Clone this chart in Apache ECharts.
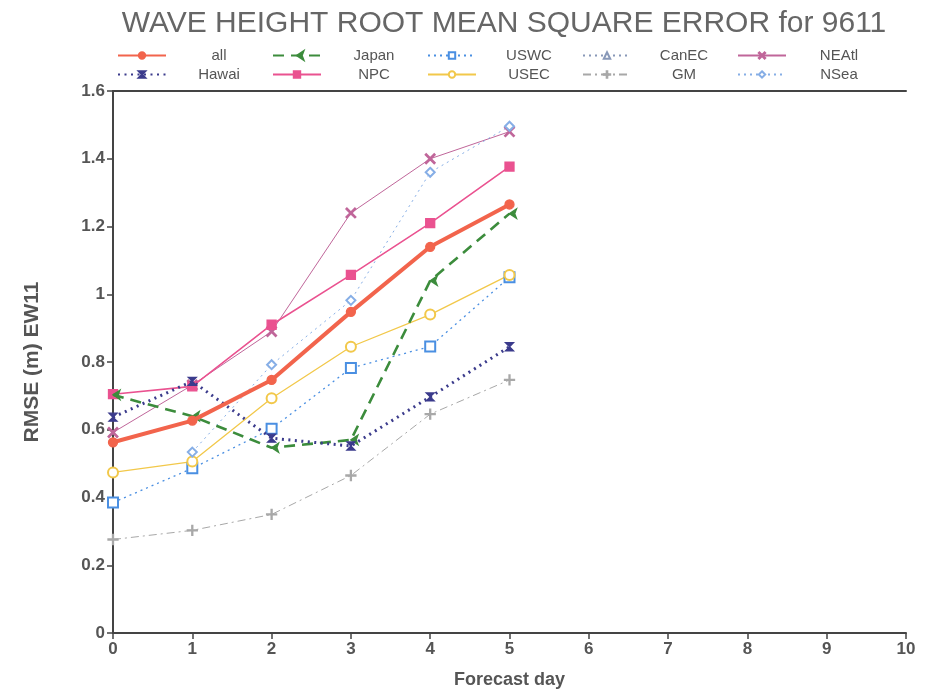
<!DOCTYPE html>
<html><head><meta charset="utf-8">
<script src="https://cdn.jsdelivr.net/npm/echarts@6/dist/echarts.min.js"></script>
<style>html,body{margin:0;padding:0;background:#fff}#c{width:928px;height:698px}</style>
</head><body><div id="c"></div>
<script>
const days = [0,1,2,3,4,5];
const allV   = [0.563,0.627,0.747,0.948,1.140,1.265];
const japanV = [0.703,0.640,0.547,0.570,1.040,1.238];
const uswcV  = [0.385,0.486,0.603,0.782,0.846,1.050];
const canecV = [];
const neatlV = [0.592,0.732,0.890,1.240,1.400,1.480];
const hawaiV = [0.637,0.743,0.575,0.552,0.697,0.845];
const npcV   = [0.705,0.728,0.910,1.057,1.210,1.377];
const usecV  = [0.474,0.506,0.693,0.845,0.940,1.057];
const gmV    = [0.276,0.303,0.350,0.465,0.646,0.747];
const nseaV  = [null,0.534,0.792,0.982,1.360,1.496];
const xTicks = [0,1,2,3,4,5,6,7,8,9,10];
const yTicks = [0,0.2,0.4,0.6,0.8,1,1.2,1.4,1.6];
const legendRow1 = ['all','Japan','USWC','CanEC','NEAtl'];
const legendRow2 = ['Hawai','NPC','USEC','GM','NSea'];

const pts = v => v.map((y,i)=>[days[i], y]);
const X_PATH = 'path://M0,1L1,0L5,4L9,0L10,1L6,5L10,9L9,10L5,6L1,10L0,9L4,5Z';
const PLUS_PATH = 'path://M4.5,0H5.5V4.5H10V5.5H5.5V10H4.5V5.5H0V4.5H4.5Z';
const HOUR_PATH = 'path://M0,0L10,0L5,5L10,10L0,10L5,5Z';

function S(name, data, color, width, type, symbol, size, extra){
  return Object.assign({
    name, type:'line', data: pts(data), symbol, symbolSize:size, showSymbol:true,
    connectNulls:false,
    lineStyle:{color, width, type},
    itemStyle:{color, borderColor:color, borderWidth:1.3},
    z: 2
  }, extra||{});
}
const series = [
  S('all', allV, '#f2644c', 4, 'solid', 'circle', 9, {z:5}),
  S('Japan', japanV, '#3c8c3c', 2.6, [11,7], 'arrow', 7, {symbolRotate:90, z:4}),
  S('USWC', uswcV, '#4a8fe2', 1.3, [2,4], 'emptyRect', 10),
  S('CanEC', canecV, '#8898b8', 1, [2,4], 'emptyTriangle', 9),
  S('NEAtl', neatlV, '#c0669a', 1, 'solid', X_PATH, 10),
  S('Hawai', hawaiV, '#3b3b8c', 3, [2,4.5], HOUR_PATH, 8, {z:4}),
  S('NPC', npcV, '#ea5290', 1.6, 'solid', 'rect', 9, {z:3}),
  S('USEC', usecV, '#f2c84a', 1.3, 'solid', 'emptyCircle', 10),
  S('GM', gmV, '#a8a8a8', 1, [8,4,2,4], PLUS_PATH, 10),
  S('NSea', nseaV, '#86aee6', 1, [2,4], 'emptyDiamond', 9)
];

const FONT = 'Liberation Sans, Arial, sans-serif';
const legendText = {color:'#555', fontSize:15, fontFamily:FONT,
  rich:{c:{width:96, align:'center', color:'#555', fontSize:15, fontFamily:FONT}}};
const legends = [];
[[legendRow1,43],[legendRow2,62]].forEach(([row,top])=>{
  row.forEach((n,k)=>{
    legends.push({top, left:112+155*k, orient:'horizontal', itemWidth:48, itemHeight:8,
      data:[n], textStyle:legendText, selectedMode:false, formatter: s => '{c|' + s + '}'});
  });
});

const chart = echarts.init(document.getElementById('c'), null, {renderer:'canvas'});
chart.setOption({
  backgroundColor:'#fff',
  animation:false,
  title:{text:'WAVE HEIGHT ROOT MEAN SQUARE ERROR for 9611', left:499, textAlign:'center', top:4,
    textStyle:{color:'#666', fontSize:30, fontWeight:'normal', fontFamily:'Liberation Sans Narrow, Liberation Sans, Arial, sans-serif'}},
  legend:legends,
  grid:{left:113, right:22, top:91, bottom:65, containLabel:false},
  xAxis:[{
    type:'value', min:0, max:10, interval:1,
    name:'Forecast day', nameLocation:'middle', nameGap:38,
    nameTextStyle:{color:'#555', fontSize:18, fontWeight:'bold', fontFamily:FONT},
    axisLine:{show:true, lineStyle:{color:'#444', width:2}},
    axisTick:{show:true, inside:false, length:6, lineStyle:{color:'#444', width:1.5}},
    axisLabel:{color:'#555', fontSize:17, fontWeight:'bold', margin:8, fontFamily:FONT,
      formatter:v=>xTicks.includes(v)?String(v):''},
    splitLine:{show:false}
  },{
    type:'value', position:'top', min:0, max:10,
    axisLine:{show:true, lineStyle:{color:'#444', width:2}},
    axisTick:{show:false}, axisLabel:{show:false}, splitLine:{show:false}
  }],
  yAxis:{
    type:'value', min:0, max:1.6, interval:0.2,
    name:'RMSE (m) EW11', nameLocation:'middle', nameGap:70, nameRotate:90,
    nameTextStyle:{color:'#555', fontSize:21, fontWeight:'bold', fontFamily:FONT},
    axisLine:{show:true, lineStyle:{color:'#444', width:2}},
    axisTick:{show:true, inside:false, length:6, lineStyle:{color:'#444', width:1.5}},
    axisLabel:{color:'#555', fontSize:17, fontWeight:'bold', margin:8, fontFamily:FONT,
      formatter:v=>{const t=yTicks.find(k=>Math.abs(k-v)<1e-9); return t===undefined?'':String(t);}},
    splitLine:{show:false}
  },
  series
});
</script></body></html>
